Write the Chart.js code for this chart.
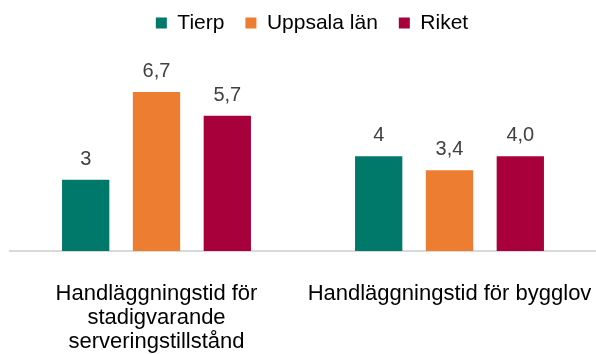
<!DOCTYPE html>
<html>
<head>
<meta charset="utf-8">
<script src="https://cdn.jsdelivr.net/npm/chart.js@4.4.1/dist/chart.umd.min.js"></script>
<style>
  html, body { margin: 0; padding: 0; background: #ffffff; }
  canvas { display: block; }
</style>
</head>
<body>
<canvas id="chart" width="596" height="354"></canvas>
<script>
// Categories (multi-line where the label wraps)
const categories = [
  ["Handläggningstid för", "stadigvarande", "serveringstillstånd"],
  "Handläggningstid för bygglov"
];

// Series
const seriesNames = ["Tierp", "Uppsala län", "Riket"];
const tierp = [3, 4];
const uppsalaLan = [6.7, 3.4];
const riket = [5.7, 4.0];

// Decimals shown in the value labels for each series
const labelDecimals = [0, 1, 1];

const seriesColors = ["#00786A", "#ED7D31", "#A8003B"];
const FONT = '"Liberation Sans", Arial, Helvetica, sans-serif';

function formatValue(v, dec) {
  return v.toFixed(dec).replace('.', ',');
}

// Draws the value above each bar
const valueLabels = {
  id: 'valueLabels',
  afterDatasetsDraw(chart) {
    const ctx = chart.ctx;
    ctx.save();
    ctx.font = '20px ' + FONT;
    ctx.fillStyle = '#404040';
    ctx.textAlign = 'center';
    ctx.textBaseline = 'alphabetic';
    chart.data.datasets.forEach((ds, i) => {
      const meta = chart.getDatasetMeta(i);
      meta.data.forEach((bar, j) => {
        ctx.fillText(formatValue(ds.data[j], labelDecimals[i]), bar.x, bar.y - 15);
      });
    });
    ctx.restore();
  }
};

// Nudges the legend row a little to the right
const legendShift = {
  id: 'legendShift',
  afterLayout(chart) {
    const lg = chart.legend;
    if (lg) { lg.left += 7; lg.right += 7; }
  }
};

new Chart(document.getElementById('chart'), {
  type: 'bar',
  data: {
    labels: categories,
    datasets: [
      { label: seriesNames[0], data: tierp, backgroundColor: seriesColors[0] },
      { label: seriesNames[1], data: uppsalaLan, backgroundColor: seriesColors[1] },
      { label: seriesNames[2], data: riket, backgroundColor: seriesColors[2] }
    ]
  },
  options: {
    responsive: false,
    animation: false,
    events: [],
    layout: { padding: { top: -8.5, left: 10, right: -4, bottom: -2 } },
    datasets: {
      bar: { categoryPercentage: 0.725, barPercentage: 0.668, borderWidth: 0 }
    },
    plugins: {
      tooltip: { enabled: false },
      legend: {
        position: 'top',
        align: 'center',
        labels: {
          boxWidth: 11,
          boxHeight: 11,
          padding: 21,
          color: '#000000',
          font: { family: FONT, size: 21 }
        }
      }
    },
    scales: {
      x: {
        grid: { display: false, drawTicks: true, tickLength: 29 },
        border: { display: true, color: '#D9D9D9', width: 2 },
        ticks: {
          color: '#000000',
          padding: 2,
          maxRotation: 0,
          minRotation: 0,
          autoSkip: false,
          font: { family: FONT, size: 22, lineHeight: 24 / 22 }
        }
      },
      y: {
        display: false,
        min: 0,
        max: 8.75
      }
    }
  },
  plugins: [valueLabels, legendShift]
});
</script>
</body>
</html>
